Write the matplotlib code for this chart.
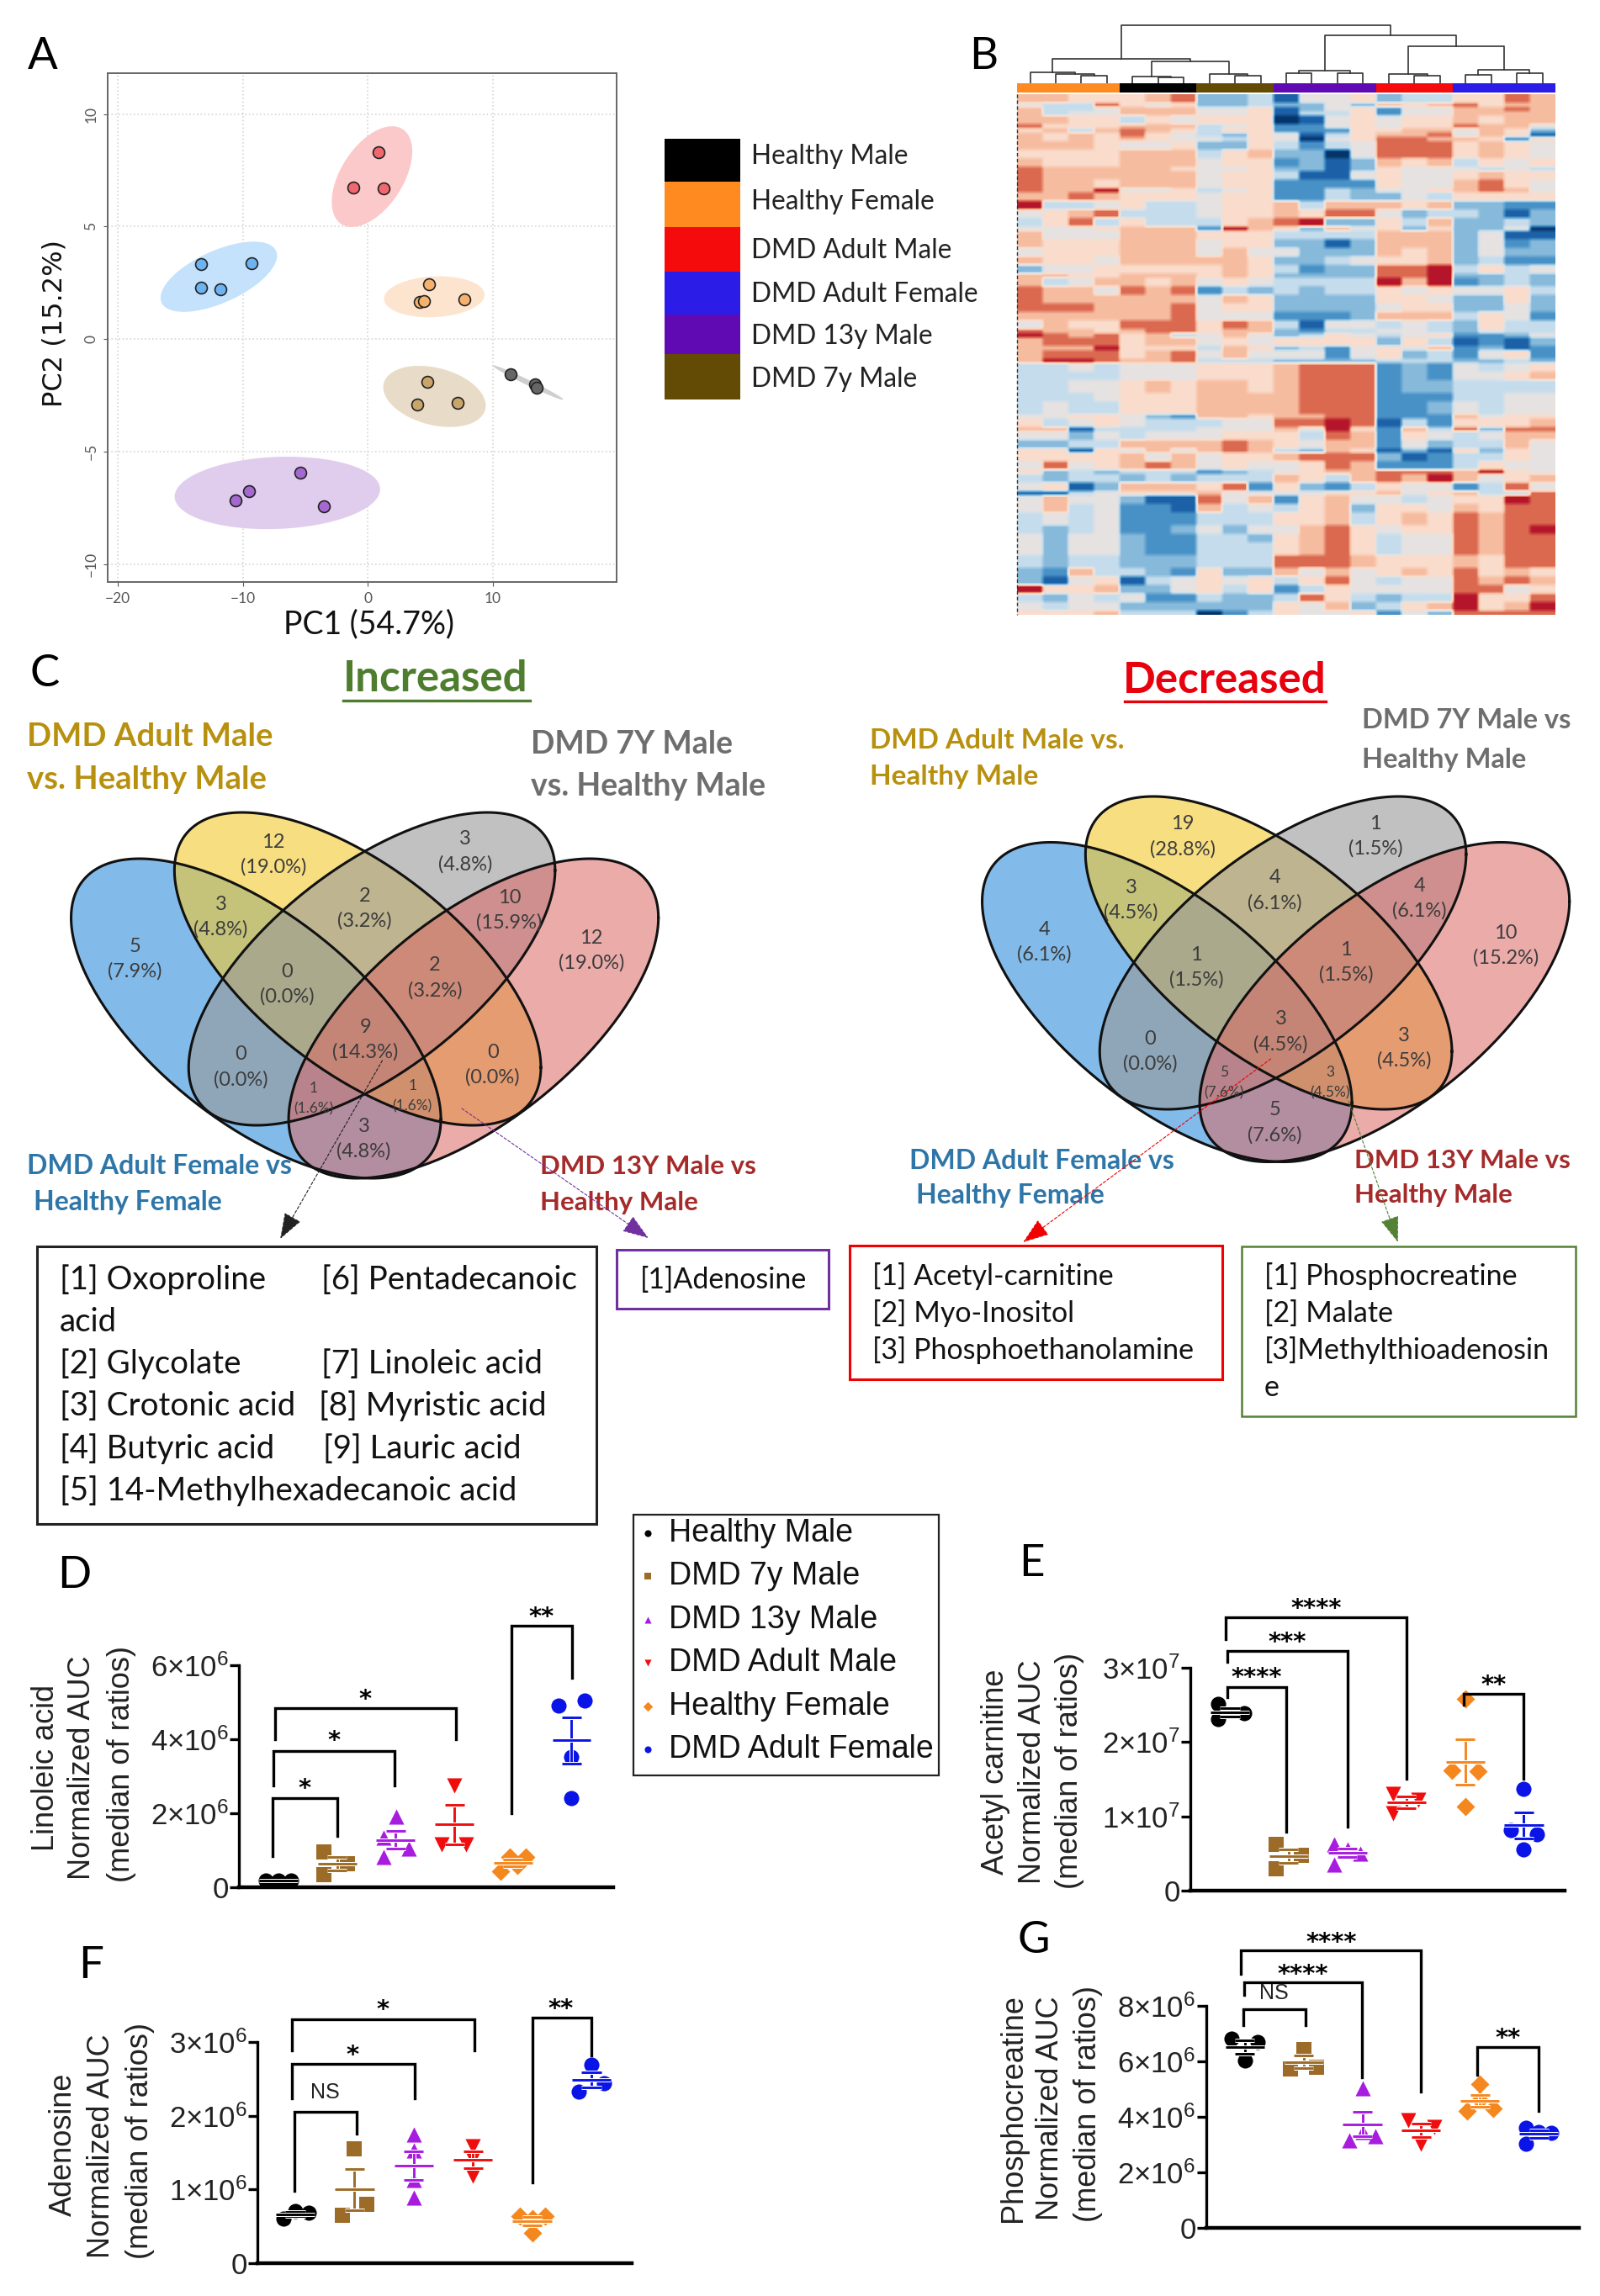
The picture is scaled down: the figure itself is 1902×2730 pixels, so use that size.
import numpy as np
import matplotlib
matplotlib.use('Agg')
import matplotlib.pyplot as plt
from matplotlib.colors import LinearSegmentedColormap
from matplotlib.patches import Rectangle
import matplotlib.patheffects as pe

plt.rcParams['font.family'] = ['Lato', 'DejaVu Sans']
plt.rcParams['mathtext.fontset'] = 'custom'
plt.rcParams['mathtext.rm'] = 'Liberation Sans'

W = 1902
H = 2730
XS = 0.9945  # all x below were read a touch wide
RX = 5  # right hand panels sit a little further right

# panel A, PCA scores
pca_names = ['Healthy Male', 'Healthy Female', 'DMD Adult Male', 'DMD Adult Female', 'DMD 13y Male', 'DMD 7y Male']
pca_legend_colors = ['#000000', '#ff8a1f', '#f50b0b', '#2b1ce8', '#600ab4', '#634a05']
pca_x = [[11.4, 13.4, 13.5], [4.9, 4.18, 4.48, 7.73], [0.88, -1.19, 1.29],
         [-13.35, -9.28, -13.35, -11.8], [-5.41, -9.54, -10.6, -3.5], [4.79, 3.92, 7.16]]
pca_y = [[-1.55, -2.0, -2.16], [2.42, 1.64, 1.69, 1.77], [8.29, 6.72, 6.7],
         [3.33, 3.37, 2.27, 2.2], [-5.94, -6.76, -7.19, -7.45], [-1.9, -2.9, -2.85]]
pca_face = ['#666666', '#f5b26e', '#f0686e', '#6db3f2', '#a468d0', '#c9a56a']
pca_fill = ['#cfcfcf', '#fde4cf', '#fbc9c9', '#c4e2fb', '#e0cdee', '#e8dcc8']
# centre x, centre y, half width, half height, tilt
pca_ell = [(12.8, -1.93, 2.84, 0.77, -0.985), (5.31, 1.88, 4.02, 0.91, 0.1), (0.33, 7.22, 3.22, 2.24, 0.5),
           (-11.93, 2.77, 4.66, 1.56, 0.6), (-7.24, -6.84, 8.22, 1.61, 0.1), (5.33, -2.55, 4.1, 1.36, -0.3)]

# panel B, heatmap read row by row, 0 dark blue .. 9 dark red, with row thickness
heat_rows = [
    ("7766 678 334 1556 344 6687", 2), ("5448 656 334 3353 767 8677", 1), ("7445 777 556 1356 255 7787", 1),
    ("7455 777 556 1446 255 7777", 1), ("7766 465 666 0156 566 7677", 2), ("8666 777 456 2256 566 8775", 1),
    ("6747 876 466 2226 677 5763", 1), ("7676 865 436 5146 778 5761", 1), ("7676 765 546 5056 887 7626", 1),
    ("7776 556 336 4245 888 6765", 2), ("6666 777 467 3305 888 6765", 2), ("7666 777 566 2313 767 4656", 2),
    ("8777 776 556 3313 655 5454", 1), ("8777 777 566 4115 655 6766", 2), ("8776 777 566 2222 655 7865", 2),
    ("8779 556 456 2243 556 7875", 1), ("7787 666 566 2243 354 6666", 2), ("9445 644 566 7477 767 3322", 2),
    ("5678 444 566 7688 534 4313", 2), ("4684 644 467 8933 647 3343", 2), ("5556 777 297 6375 636 3350", 1),
    ("7555 777 666 4444 777 3511", 2), ("7666 777 566 3313 777 3523", 2), ("5666 777 575 5333 767 3533", 2),
    ("7665 777 776 3345 667 3422", 2), ("3556 666 676 4233 889 4645", 2), ("7766 777 676 3333 889 3343", 1),
    ("7457 767 565 4444 979 2343", 2), ("8775 878 243 4344 656 5564", 2), ("8777 777 576 3333 665 3363", 2),
    ("8887 778 566 3333 566 3353", 2), ("7777 778 555 2223 777 4652", 2), ("5766 888 687 4155 454 3644", 2),
    ("8776 788 677 3244 554 3544", 1), ("9878 674 575 3465 456 2235", 1), ("7888 677 565 6666 364 1213", 2),
    ("7779 666 476 3425 657 2312", 1), ("7888 678 575 5525 634 2562", 2), ("7998 778 444 3333 444 3343", 1),
    ("4454 555 666 7888 232 5456", 2), ("4444 555 666 7888 232 5567", 2), ("4455 676 776 7888 233 4444", 3),
    ("4445 666 777 7888 222 4455", 2), ("4544 666 777 7888 223 5455", 3), ("5566 532 776 7788 222 7566", 1),
    ("6456 544 455 8898 142 6667", 2), ("7714 444 555 7596 274 8388", 1), ("5535 455 566 6487 265 4577", 2),
    ("3344 777 787 6577 253 4475", 2), ("6616 575 787 4376 131 6365", 1), ("6666 757 566 7888 312 4465", 2),
    ("5856 787 565 5687 222 4655", 2), ("6343 444 234 5677 888 7965", 1), ("4344 343 444 7647 879 7567", 2),
    ("5613 777 682 6324 655 2485", 2), ("1145 666 755 5566 756 7448", 1), ("5755 311 857 2675 545 6698", 2),
    ("5745 221 745 4673 665 7688", 2), ("4545 222 444 6674 676 8788", 3), ("4345 223 535 5786 566 8789", 2),
    ("5355 322 443 6786 455 8788", 2), ("5355 322 444 6786 455 8788", 3), ("4344 333 444 8887 666 7688", 3),
    ("3274 432 633 7575 676 8676", 2), ("3156 145 656 4685 455 8787", 2), ("9667 335 646 2465 555 8856", 2),
    ("4354 522 433 4864 344 9668", 2), ("5455 333 333 6573 467 9679", 2), ("6667 444 024 6556 253 8888", 1),
]
heat_colors = ['#053568', '#1d62a8', '#4a93c8', '#86b9da', '#c6dded', '#e5e3e2', '#fadccc', '#f7bea2', '#dc6b51', '#b5152b']
heat_group_sizes = [4, 3, 3, 4, 3, 4]
heat_group_colors = ['#ff8a1f', '#000000', '#634a05', '#600ab4', '#f50b0b', '#2b1ce8']
# left pos, left height, right pos, right height, join height
dendro = [(2.5, 0, 3.5, 0, 9), (1.5, 0, 3, 9, 11), (0.5, 0, 2.25, 11, 13),
          (5.5, 0, 6.5, 0, 7), (4.5, 0, 6, 7, 8),
          (8.5, 0, 9.5, 0, 9), (7.5, 0, 9, 9, 11), (5.25, 8, 8.25, 11, 26), (1.375, 13, 6.75, 26, 29),
          (10.5, 0, 11.5, 0, 12), (12.5, 0, 13.5, 0, 12), (11, 12, 13, 12, 15),
          (15.5, 0, 16.5, 0, 9), (14.5, 0, 16, 9, 11),
          (17.5, 0, 18.5, 0, 10), (19.5, 0, 20.5, 0, 12), (18, 10, 20, 12, 16),
          (15.25, 11, 19, 16, 44), (12, 15, 17.125, 44, 57), (4.06, 29, 14.56, 57, 69)]

# panel C, venn counts
venn_up = [('5', '(7.9%)', 161, 1140), ('12', '(19.0%)', 327, 1016), ('3', '(4.8%)', 264, 1090),
           ('3', '(4.8%)', 556, 1013), ('2', '(3.2%)', 436, 1080), ('10', '(15.9%)', 609, 1082),
           ('0', '(0.0%)', 343, 1170), ('2', '(3.2%)', 520, 1163), ('12', '(19.0%)', 707, 1130),
           ('9', '(14.3%)', 437, 1236), ('0', '(0.0%)', 288, 1269), ('0', '(0.0%)', 589, 1266),
           ('3', '(4.8%)', 435, 1354)]
venn_up_small = [('1', '(1.6%)', 375, 1306), ('1', '(1.6%)', 493, 1303)]
venn_down = [('4', '(6.1%)', 1248, 1120), ('19', '(28.8%)', 1414, 995), ('3', '(4.5%)', 1352, 1070),
             ('1', '(1.5%)', 1644, 994), ('4', '(6.1%)', 1524, 1059), ('4', '(6.1%)', 1697, 1068),
             ('1', '(1.5%)', 1430, 1150), ('1', '(1.5%)', 1609, 1144), ('10', '(15.2%)', 1800, 1124),
             ('3', '(4.5%)', 1531, 1227), ('0', '(0.0%)', 1375, 1250), ('3', '(4.5%)', 1678, 1246),
             ('5', '(7.6%)', 1524, 1335)]
venn_down_small = [('5', '(7.6%)', 1463, 1287), ('3', '(4.5%)', 1590, 1287)]

# panels D-G, one list per group
group_names = ['Healthy Male', 'DMD 7y Male', 'DMD 13y Male', 'DMD Adult Male', 'Healthy Female', 'DMD Adult Female']
group_colors = ['#000000', '#9c6b27', '#a81ce0', '#f00d0d', '#f5871f', '#0a14e6']
group_markers = ['o', 's', '^', 'v', 'D', 'o']
group_sizes = [170, 150, 170, 170, 125, 170]

linoleic = [[1.9e5, 1.9e5, 1.9e5], [9.5e5, 3.3e5, 6.3e5], [1.91e6, 1.35e6, 1.04e6, 0.82e6],
            [2.76e6, 1.16e6, 1.16e6], [4.4e5, 8.2e5, 5.9e5, 8.2e5], [5.05e6, 4.91e6, 3.52e6, 2.41e6]]
linoleic_off = [[-.22, 0, .22], [-.22, -.22, .17], [.01, -.21, .23, -.21],
                [0, -.22, .2], [-.21, -.06, .07, .22], [.22, -.22, 0, 0]]
carnitine = [[2.51e7, 2.31e7, 2.39e7], [.62e7, .30e7, .47e7], [.62e7, .56e7, .50e7, .35e7],
             [1.30e7, 1.22e7, 1.04e7], [2.58e7, 1.62e7, 1.61e7, 1.13e7], [1.37e7, .82e7, .76e7, .56e7]]
carnitine_off = [[-.2, -.2, .24], [-.22, -.22, .21], [-.22, 0, .22, -.22],
                 [-.23, .21, -.23], [0, -.22, .22, 0], [0, -.22, .22, 0]]
adenosine = [[6.1e5, 7.1e5, 6.8e5], [1.55e6, 6.5e5, 8.0e5], [1.74e6, 1.53e6, 1.13e6, .89e6],
             [1.59e6, 1.42e6, 1.19e6], [6.4e5, 6.0e5, 6.4e5, 4.1e5], [2.69e6, 2.33e6, 2.44e6]]
adenosine_off = [[-.2, 0, .22], [0, -.21, .2], [0, 0, 0, 0], [0, 0, 0], [-.21, 0, .22, 0], [0, -.21, .21]]
creatine = [[6.83e6, 6.70e6, 6.04e6], [6.42e6, 5.74e6, 5.79e6], [5.03e6, 3.46e6, 3.14e6, 3.29e6],
            [3.87e6, 3.65e6, 3.03e6], [5.18e6, 4.61e6, 4.20e6, 4.30e6], [3.62e6, 3.46e6, 3.41e6, 3.03e6]]
creatine_off = [[-.22, .22, 0], [0, -.22, .22], [0, 0, -.22, .22], [-.22, .22, 0], [0, 0, -.22, .22], [-.22, 0, .22, -.22]]


def add_ax(x0, y0, x1, y1):
    return fig.add_axes([x0 * XS / W, 1 - y1 / H, (x1 - x0) * XS / W, (y1 - y0) / H])


def tilted(cx, cy, rx, ry, rho):
    t = np.linspace(0, 2 * np.pi, 240)
    return cx + rx * np.cos(t), cy + ry * (rho * np.cos(t) + np.sqrt(1 - rho ** 2) * np.sin(t))


def venn(ax, centre, yb, yy):
    # blue, yellow, gray, red
    shapes = [(centre - 130, yb, 221, 190, 0.63), (centre - 8.5, yy - 4, 219, 186, 0.63),
              (centre + 8.5, yy - 4, 219, 186, -0.63), (centre + 130, yb, 221, 190, -0.63)]
    cols = ['#2f8fdc', '#f2c92e', '#999999', '#da6966']
    for s, c, a in zip(shapes, cols, [0.6, 0.6, 0.6, 0.56]):
        x, y = tilted(*s)
        ax.fill(x, y, color=c, alpha=a, lw=0)
    for s in shapes:
        x, y = tilted(*s)
        ax.plot(x, y, color='#111111', lw=2.2)


def venn_text(ax, items, size, gap):
    for a, b, x, y in items:
        ax.text(x, y - gap, a, fontsize=size, color='#3c3c3c', ha='center', va='center')
        ax.text(x, y + gap, b, fontsize=size, color='#3c3c3c', ha='center', va='center')


def swarm(rect, xlim, data, offs, ticks, labels):
    ax = add_ax(*rect)
    for i, vals in enumerate(data):
        xs = i + np.array(offs[i])
        ax.scatter(xs, vals, s=group_sizes[i], marker=group_markers[i], color=group_colors[i], lw=0, clip_on=False, zorder=3)
        m = np.mean(vals)
        e = np.std(vals, ddof=1) / np.sqrt(len(vals))
        halo = [pe.withStroke(linewidth=3.6, foreground='white')]
        kw = dict(color=group_colors[i], lw=2.1, clip_on=False, zorder=4, path_effects=halo, solid_capstyle='butt')
        ax.plot([i, i], [m - e, m + e], **kw)
        ax.plot([i - .165, i + .165], [m + e, m + e], **kw)
        ax.plot([i - .165, i + .165], [m - e, m - e], **kw)
        ax.plot([i - .33, i + .33], [m, m], **kw)
    ax.set_xlim(*xlim)
    ax.set_ylim(0, ticks[-1])
    ax.set_yticks(ticks)
    ax.set_yticklabels(labels, fontsize=25, family='Liberation Sans', color='#222222')
    ax.set_xticks([])
    ax.tick_params(axis='y', length=8, width=2.4, pad=1)
    ax.spines['top'].set_visible(False)
    ax.spines['right'].set_visible(False)
    ax.spines['left'].set_linewidth(2.4)
    ax.spines['bottom'].set_linewidth(3.2)
    ax.patch.set_alpha(0)
    return ax


def bracket(x1, x2, top, low1, low2, label, sx, sy, shift=0):
    ov.plot([x1 + shift, x1 + shift, x2 + shift, x2 + shift], [low1, top, top, low2], color='black', lw=2.4, solid_joinstyle='miter')
    if label == 'NS':
        ov.text(sx + shift, sy, label, fontsize=18, family='Liberation Sans', ha='center', va='center', color='#222222')
    else:
        ov.text(sx + shift, sy + 7, label, fontsize=21, family='DejaVu Sans', weight='bold', ha='center', va='center', color='black')


def ylabel3(xs, ys, first):
    lines = [first, 'Normalized AUC', '(median of ratios)']
    for x, y, t in zip(xs, ys, lines):
        ov.text(x, y, t, rotation=90, fontsize=26, family='Liberation Sans', ha='center', va='center', color='#222222')


fig = plt.figure(figsize=(W / 100, H / 100), dpi=100)

# A
axa = add_ax(129, 87, 737, 692)
for i in range(6):
    ex, ey = tilted(*pca_ell[i])
    axa.fill(ex, ey, color=pca_fill[i], lw=0, zorder=2)
for i in range(6):
    axa.scatter(pca_x[i], pca_y[i], s=100, color=pca_face[i], edgecolors='#222222', linewidths=1.2, zorder=3)
axa.set_xlim(-20.8, 19.9)
axa.set_ylim(-10.8, 11.82)
axa.set_xticks([-20, -10, 0, 10])
axa.set_yticks([-10, -5, 0, 5, 10])
axa.grid(True, color='#d5d5d5', ls=':', lw=1.2)
axa.set_axisbelow(True)
axa.tick_params(axis='x', labelsize=12.5, labelcolor='#555555', color='#555555', pad=5)
axa.tick_params(axis='y', labelsize=12.5, labelcolor='#555555', color='#555555', pad=5, labelrotation=90)
for l in axa.get_yticklabels():
    l.set_va('center')
for s in axa.spines.values():
    s.set_color('#666666')
    s.set_linewidth(1.4)

# B
mat = np.repeat(np.array([[int(c) for c in r.replace(' ', '')] for r, n in heat_rows]),
                [n for r, n in heat_rows], axis=0)
mat = np.repeat(mat, 6, axis=1)
axb = add_ax(1211 + RX, 112, 1854 + RX, 731)
axb.imshow(mat, aspect='auto', vmin=0, vmax=9, interpolation='bilinear',
           cmap=LinearSegmentedColormap.from_list('heat', heat_colors))
axb.axis('off')
axc = add_ax(1211 + RX, 98.5, 1854 + RX, 110)
left = 0
for n, c in zip(heat_group_sizes, heat_group_colors):
    axc.barh(0, n, left=left, height=1, color=c, lw=0)
    left += n
axc.set_xlim(0, 21)
axc.set_ylim(-.5, .5)
axc.axis('off')
axd = add_ax(1211 + RX, 28, 1854 + RX, 98.5)
for x1, h1, x2, h2, top in dendro:
    axd.plot([x1, x1, x2, x2], [h1, top, top, h2], color='#333333', lw=1.2)
axd.set_xlim(0, 21)
axd.set_ylim(0, 70.5)
axd.axis('off')

ov = fig.add_axes([0, 0, 1, 1], zorder=10)
ov.set_xlim(0, W / XS)
ov.set_ylim(H, 0)
ov.axis('off')
ov.patch.set_alpha(0)
ov.plot([1211 + RX, 1211 + RX], [112, 731], color='#333333', lw=1, ls=(0, (3, 2)))

# panel letters
for t, x, y in [('A', 51, 68), ('B', 1176, 68), ('C', 53, 802), ('D', 89, 1874), ('E', 1233, 1860), ('F', 109, 2337), ('G', 1236, 2307)]:
    ov.text(x, y, t, fontsize=38, ha='center', va='center', color='black')

ov.text(65, 385, 'PC2 (15.2%)', rotation=90, fontsize=23, family='DejaVu Sans', ha='center', va='center', color='#111111')
ov.text(441, 742, 'PC1 (54.7%)', fontsize=27, ha='center', va='center', color='#111111')

legend_edges = [165, 216, 270, 323, 374, 421, 475]
legend_text_y = [186, 240, 298, 350, 400, 451]
for i in range(6):
    ov.add_patch(Rectangle((794, legend_edges[i]), 91, legend_edges[i + 1] - legend_edges[i], color=pca_legend_colors[i], lw=0))
    ov.text(898, legend_text_y[i], pca_names[i], fontsize=22.8, va='center', color='#222222')

# C
venn(ov, 436, 1211, 1156)
venn(ov, 1520 + RX, 1191.5, 1137)
venn_text(ov, venn_up, 17, 15)
venn_text(ov, venn_up_small, 12.5, 12)
venn_text(ov, venn_down, 17, 15)
venn_text(ov, venn_down_small, 12.5, 12)

ov.text(521, 807, 'Increased', fontsize=36.8, weight='bold', color='#4e7d2e', ha='center', va='center')
ov.plot([410, 633], [833, 833], color='#4e7d2e', lw=2.4)
ov.text(1464, 809, 'Decreased', fontsize=36.8, weight='bold', color='#e8000d', ha='center', va='center')
ov.plot([1344, 1585], [834, 834], color='#e8000d', lw=2.4)

gold = '#b8900f'
gray = '#6e6e6e'
steel = '#2e75a8'
brick = '#a52a2a'
for t, x, y, c, s in [('DMD Adult Male', 32, 876, gold, 27.5), ('vs. Healthy Male', 32, 927, gold, 27.5),
                      ('DMD 7Y Male', 634, 885, gray, 27), ('vs. Healthy Male', 634, 935, gray, 27),
                      ('DMD Adult Female vs', 32, 1386, steel, 23), ('Healthy Female', 40, 1429, steel, 23),
                      ('DMD 13Y Male vs', 646, 1387, brick, 22.5), ('Healthy Male', 646, 1430, brick, 22.5),
                      ('DMD Adult Male vs.', 1040, 880, gold, 24), ('Healthy Male', 1040, 924, gold, 24),
                      ('DMD 7Y Male vs', 1628, 857, gray, 23.5), ('Healthy Male', 1628, 903, gray, 23.5),
                      ('DMD Adult Female vs', 1087, 1381, steel, 23), ('Healthy Female', 1095, 1422, steel, 23),
                      ('DMD 13Y Male vs', 1619, 1380, brick, 22.5), ('Healthy Male', 1619, 1421, brick, 22.5)]:
    ov.text(x, y, t, fontsize=s, weight='bold', color=c, va='center')

for a, b, c in [((457, 1261), (335, 1473), '#222222'), ((552, 1318), (775, 1472), '#7030a0'),
                ((1519, 1259), (1223, 1477), '#f00000'), ((1612, 1309), (1671, 1477), '#548235')]:
    ov.annotate('', xy=b, xytext=a, arrowprops=dict(arrowstyle='-|>,head_length=0.7,head_width=0.25', mutation_scale=28,
                                                   color=c, lw=0.8, ls=(0, (3, 2)), shrinkA=0, shrinkB=0))

for x0, y0, x1, y1, c, lw in [(44, 1482, 713, 1812, '#222222', 2.2), (737, 1486, 990, 1556, '#7030a0', 2.2),
                              (1016, 1481, 1461, 1640, '#f00000', 2.2), (1484, 1482, 1883, 1684, '#548235', 1.8)]:
    ov.add_patch(Rectangle((x0, y0), x1 - x0, y1 - y0, fill=False, ec=c, lw=lw))

for t, x, y in [('[1] Oxoproline', 71, 1522), ('acid', 71, 1572), ('[2] Glycolate', 71, 1622), ('[3] Crotonic acid', 71, 1672),
                ('[4] Butyric acid', 71, 1723), ('[5] 14-Methylhexadecanoic acid', 71, 1773),
                ('[6] Pentadecanoic', 384, 1522), ('[7] Linoleic acid', 384, 1622), ('[8] Myristic acid', 381, 1672),
                ('[9] Lauric acid', 386, 1723)]:
    ov.text(x, y, t, fontsize=27.7, va='center', color='#111111')
ov.text(765, 1522, '[1]Adenosine', fontsize=24.5, va='center', color='#111111')
for t, x, y in [('[1] Acetyl-carnitine', 1043, 1518), ('[2] Myo-Inositol', 1043, 1562), ('[3] Phosphoethanolamine', 1043, 1606),
                ('[1] Phosphocreatine', 1511, 1518), ('[2] Malate', 1511, 1562), ('[3]Methylthioadenosin', 1511, 1606), ('e', 1511, 1650)]:
    ov.text(x, y, t, fontsize=24.5, va='center', color='#111111')

# legend of D-G
ov.add_patch(Rectangle((757, 1801), 365, 310, fill=False, ec='#222222', lw=1.6))
for i, y in enumerate([1823, 1874, 1926, 1977, 2029, 2080]):
    ov.scatter([774], [y], s=34, marker=group_markers[i], color=group_colors[i], lw=0)
    ov.text(799, y, group_names[i], fontsize=27, family='Liberation Sans', va='center', color='#111111')


def sci(m, e):
    return '%d×$\\mathdefault{10^{%d}}$' % (m, e)


# D
swarm((286, 1980, 733, 2244), (-.67, 5.71), linoleic, linoleic_off, [0, 2e6, 4e6, 6e6], ['0', sci(2, 6), sci(4, 6), sci(6, 6)])
ylabel3([55, 98, 145], [2102, 2102, 2097], 'Linoleic acid')
for b in [(326, 403, 2138, 2207, 2183, '*', 364, 2120), (327, 472, 2082, 2123, 2123, '*', 399, 2063),
          (329, 545, 2031, 2068, 2068, '*', 436, 2014), (611, 684, 1933, 2156, 1995, '**', 647, 1916)]:
    bracket(*b)

# E
swarm((1418 + RX, 1983, 1865 + RX, 2248), (-.67, 5.69), carnitine, carnitine_off, [0, 1e7, 2e7, 3e7], ['0', sci(1, 7), sci(2, 7), sci(3, 7)])
ylabel3([1190, 1234, 1279], [2107, 2107, 2105], 'Acetyl carnitine')
for b in [(1462, 1532, 2006, 2018, 2178, '****', 1497, 1988), (1462, 1606, 1963, 1976, 2172, '***', 1534, 1946),
          (1460, 1676, 1923, 1949, 2115, '****', 1568, 1906), (1745, 1816, 2014, 2027, 2115, '**', 1780, 1997)]:
    bracket(*b, shift=RX)

# F
swarm((308, 2428, 755, 2691), (-.636, 5.68), adenosine, adenosine_off, [0, 1e6, 2e6, 3e6], ['0', sci(1, 6), sci(2, 6), sci(3, 6)])
ylabel3([76, 121, 167], [2550, 2552, 2545], 'Adenosine')
for b in [(352, 426, 2511, 2605, 2537, 'NS', 389, 2488), (349, 496, 2454, 2495, 2495, '*', 421, 2437),
          (349, 567, 2401, 2438, 2438, '*', 458, 2383), (637, 707, 2399, 2595, 2444, '**', 670, 2382)]:
    bracket(*b)

# G
swarm((1437 + RX, 2385, 1882 + RX, 2649), (-.655, 5.68), creatine, creatine_off, [0, 2e6, 4e6, 6e6, 8e6],
      ['0', sci(2, 6), sci(4, 6), sci(6, 6), sci(8, 6)])
ylabel3([1211, 1255, 1301], [2507, 2507, 2502], 'Phosphocreatine')
for b in [(1481, 1556, 2389, 2408, 2408, 'NS', 1518, 2370), (1482, 1623, 2357, 2372, 2470, '****', 1552, 2341),
          (1478, 1693, 2319, 2347, 2487, '****', 1586, 2303), (1761, 1834, 2434, 2467, 2510, '**', 1797, 2417)]:
    bracket(*b, shift=RX)

fig.savefig('out.png', dpi=100)
